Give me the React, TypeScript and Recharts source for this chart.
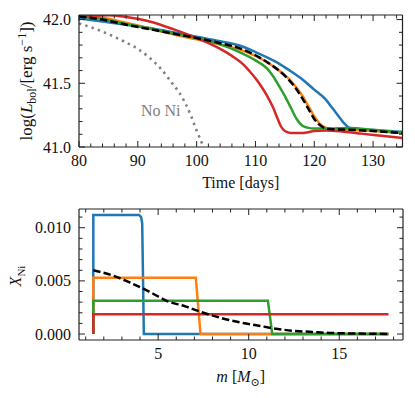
import React from 'react';
import { LineChart, Line, XAxis, YAxis, Label, ReferenceDot } from 'recharts';

// top panel: bolometric light curves, time [days] vs log L
const blueT = [80, 84, 88, 92, 96, 100, 104, 107, 110, 113, 114, 116, 118, 120, 122, 123, 124, 125, 125.8, 126.6, 128, 131, 135];
const blueL = [42.01, 41.985, 41.96, 41.935, 41.9, 41.865, 41.83, 41.8, 41.745, 41.68, 41.655, 41.595, 41.53, 41.45, 41.37, 41.31, 41.25, 41.19, 41.155, 41.145, 41.14, 41.13, 41.12];

const orangeT = [80, 84, 88, 92, 96, 100, 104, 107, 110, 112, 114, 116, 118, 119, 120, 121, 122, 123, 126, 130, 135];
const orangeL = [42.03, 42.015, 41.975, 41.93, 41.885, 41.845, 41.805, 41.77, 41.715, 41.665, 41.6, 41.52, 41.4, 41.32, 41.24, 41.18, 41.15, 41.14, 41.135, 41.125, 41.11];

const greenT = [80, 84, 88, 92, 96, 100, 104, 107, 110, 112, 113, 114, 115, 116, 117, 118, 119, 120, 122, 126, 130, 135];
const greenL = [42.025, 42.005, 41.965, 41.93, 41.89, 41.855, 41.805, 41.75, 41.68, 41.615, 41.555, 41.48, 41.4, 41.31, 41.22, 41.167, 41.15, 41.145, 41.145, 41.15, 41.135, 41.11];

const redT = [80, 82, 85, 88, 92, 96, 100, 104, 106, 108, 109, 110, 111, 112, 113, 113.7, 114.3, 115, 116, 118, 120, 122, 125, 128, 131, 135];
const redL = [42.02, 42.03, 42.035, 42.02, 41.985, 41.925, 41.855, 41.77, 41.715, 41.645, 41.595, 41.54, 41.475, 41.4, 41.31, 41.23, 41.165, 41.125, 41.11, 41.11, 41.125, 41.13, 41.12, 41.105, 41.09, 41.07];

const meanT = [80, 84, 88, 92, 96, 100, 104, 107, 110, 112, 114, 116, 118, 119, 120, 121, 122, 123, 126, 130, 135];
const meanL = [42.025, 42.0, 41.96, 41.925, 41.89, 41.855, 41.815, 41.78, 41.72, 41.665, 41.6, 41.51, 41.38, 41.3, 41.22, 41.17, 41.145, 41.14, 41.135, 41.125, 41.11];

const noNiT = [80, 82, 84, 86, 88, 90, 92, 94, 96, 97, 98, 99, 100, 101, 101.2];
const noNiL = [41.97, 41.94, 41.905, 41.865, 41.82, 41.77, 41.7, 41.61, 41.49, 41.43, 41.35, 41.25, 41.13, 41.02, 41.0];

// bottom panel: Ni mass fraction vs mass coordinate
const blueM = [1.42, 1.42, 3.95, 4.06, 4.12, 4.21, 17.72];
const blueX = [0, 0.0112, 0.0112, 0.011, 0.0104, 0, 0];
const orangeM = [1.42, 1.42, 7.08, 7.34, 17.72];
const orangeX = [0, 0.0053, 0.0053, 0, 0];
const greenM = [1.42, 1.42, 11.06, 11.3, 17.72];
const greenX = [0, 0.00314, 0.00314, 0, 0];
const redM = [1.42, 1.42, 17.72];
const redX = [0, 0.00186, 0.00186];
const meanM = [1.42, 2.5, 3.5, 4.5, 5.5, 6.5, 7.5, 8.5, 9.5, 10.5, 11.5, 12.5, 13.5, 14.5, 15.5, 16.5, 17.72];
const meanX = [0.006, 0.0055, 0.0048, 0.004, 0.0031, 0.0026, 0.002, 0.0015, 0.0011, 0.0008, 0.0005, 0.0003, 0.0002, 0.0001, 0.00006, 0.00003, 0.00001];

// ticks
const timeMajor = [80, 90, 100, 110, 120, 130];
const lumMajor = [41.0, 41.5, 42.0];
const massMajor = [5, 10, 15];
const niMajor = [0, 0.005, 0.01];

const steps = (a: number, b: number, s: number) => {
  const out: number[] = [];
  for (let i = 0; a + i * s <= b + 1e-9; i++) out.push(+(a + i * s).toFixed(6));
  return out;
};
const timeTicks = steps(80, 134, 2);
const lumTicks = steps(41.0, 42.0, 0.1);
const massTicks = steps(1, 18, 1);
const niTicks = steps(0, 0.011, 0.001);

const pts = (xs: number[], ys: number[]) => xs.map((x, i) => ({ x, y: ys[i] }));

const FONT = "'Liberation Serif', 'DejaVu Serif', serif";
const INK = '#222';
const axisStyle = { stroke: INK, strokeWidth: 1.2 };
const isMajor = (v: number, majors: number[]) => majors.some((m) => Math.abs(m - v) < 1e-9);

function tickFor(side: string, majors: number[], fmt?: (v: number) => string) {
  return (p: any) => {
    const { x, y, payload } = p;
    const v = payload.value;
    const major = isMajor(v, majors);
    const len = major ? 6 : 3.5;
    let line;
    let label = null;
    if (side === 'bottom') {
      line = <line x1={x} y1={y} x2={x} y2={y - len} stroke={INK} strokeWidth={1} />;
      if (major && fmt)
        label = <text x={x} y={y + 19} textAnchor="middle" fontSize={16} fontFamily={FONT} fill="#111">{fmt(v)}</text>;
    } else if (side === 'top') {
      line = <line x1={x} y1={y} x2={x} y2={y + len} stroke={INK} strokeWidth={1} />;
    } else if (side === 'left') {
      line = <line x1={x} y1={y} x2={x + len} y2={y} stroke={INK} strokeWidth={1} />;
      if (major && fmt)
        label = <text x={x - 8} y={y} dy="0.35em" textAnchor="end" fontSize={16} fontFamily={FONT} fill="#111">{fmt(v)}</text>;
    } else {
      line = <line x1={x} y1={y} x2={x - len} y2={y} stroke={INK} strokeWidth={1} />;
    }
    return (
      <g>
        {line}
        {label}
      </g>
    );
  };
}

const W = 415;
// margins leave 1px for each axis band (axes of size 0 are not drawn)
const topM = { top: 14, right: 11.5, bottom: 52, left: 78 };
const botM = { top: 8, right: 11, bottom: 57, left: 78 };
const cxPlot = 79 + (W - 79 - 12.5) / 2;

const lineProps = { dot: false, activeDot: false, isAnimationActive: false, strokeWidth: 2.5, dataKey: 'y' } as const;
const bandProps = { tickSize: 0, tickMargin: 0, tickLine: false, axisLine: axisStyle, interval: 0 as const, allowDataOverflow: true };

export default function App() {
  return (
    <div style={{ position: 'absolute', left: 0, top: 0, width: W, height: 398, background: '#fff' }}>
      <LineChart width={W} height={200} margin={topM}>
        <XAxis dataKey="x" type="number" domain={[80, 135]} ticks={timeTicks} height={1} {...bandProps}
          tick={tickFor('bottom', timeMajor, (v) => String(v))}>
          <Label content={() => (
            <text x={cxPlot} y={188} textAnchor="middle" fontSize={16} fontFamily={FONT} fill="#111">Time [days]</text>
          )} />
        </XAxis>
        <XAxis xAxisId="top" orientation="top" dataKey="x" type="number" domain={[80, 135]} ticks={timeTicks}
          height={1} {...bandProps} tick={tickFor('top', timeMajor)} />
        <YAxis type="number" domain={[41.0, 42.036]} ticks={lumTicks} width={1} {...bandProps}
          tick={tickFor('left', lumMajor, (v) => v.toFixed(1))}>
          <Label content={() => (
            <text transform={`rotate(-90 26 81)`} x={26} y={81} dy="0.35em" textAnchor="middle" fontSize={17} fontFamily={FONT} fill="#111">
              log(<tspan fontStyle="italic">L</tspan>
              <tspan fontSize={12} dy={4}>bol</tspan>
              <tspan dy={-4}>/[erg s</tspan>
              <tspan fontSize={12} dy={-6}>−1</tspan>
              <tspan dy={6}>])</tspan>
            </text>
          )} />
        </YAxis>
        <YAxis yAxisId="right" orientation="right" type="number" domain={[41.0, 42.036]} ticks={lumTicks}
          width={1} {...bandProps} tick={tickFor('right', lumMajor)} />
        <Line data={pts(noNiT, noNiL)} type="monotone" stroke="#808080" {...lineProps} strokeWidth={2.6} strokeDasharray="2.4 4.2" />
        <Line data={pts(blueT, blueL)} type="monotone" stroke="#1f77b4" {...lineProps} />
        <Line data={pts(orangeT, orangeL)} type="monotone" stroke="#ff7f0e" {...lineProps} />
        <Line data={pts(greenT, greenL)} type="monotone" stroke="#2ca02c" {...lineProps} />
        <Line data={pts(redT, redL)} type="monotone" stroke="#d62728" {...lineProps} />
        <Line data={pts(meanT, meanL)} type="monotone" stroke="#000" {...lineProps} strokeDasharray="7.4 3.2" />
        <ReferenceDot x={93.9} y={41.29} r={0} fill="none" stroke="none"
          label={{ value: 'No Ni', position: 'center', fill: '#808080', fontSize: 16, fontFamily: FONT }} />
      </LineChart>
      <LineChart width={W} height={198} margin={botM}>
        <XAxis dataKey="x" type="number" domain={[0.63, 18.52]} ticks={massTicks} height={1} {...bandProps}
          tick={tickFor('bottom', massMajor, (v) => String(v))}>
          <Label content={() => (
            <text x={cxPlot} y={182} textAnchor="middle" fontSize={16} fontFamily={FONT} fill="#111">
              <tspan fontStyle="italic">m</tspan> [<tspan fontStyle="italic">M</tspan>
              <tspan fontSize={11} dy={4}>⊙</tspan>
              <tspan dy={-4}>]</tspan>
            </text>
          )} />
        </XAxis>
        <XAxis xAxisId="top" orientation="top" dataKey="x" type="number" domain={[0.63, 18.52]} ticks={massTicks}
          height={1} {...bandProps} tick={tickFor('top', massMajor)} />
        <YAxis type="number" domain={[-0.00056, 0.01176]} ticks={niTicks} width={1} {...bandProps}
          tick={tickFor('left', niMajor, (v) => v.toFixed(3))}>
          <Label content={() => (
            <text transform={`rotate(-90 15 76)`} x={15} y={76} dy="0.35em" textAnchor="middle" fontSize={16} fontFamily={FONT} fill="#111">
              <tspan fontStyle="italic">X</tspan>
              <tspan fontSize={11} dy={4}>Ni</tspan>
            </text>
          )} />
        </YAxis>
        <YAxis yAxisId="right" orientation="right" type="number" domain={[-0.00056, 0.01176]} ticks={niTicks}
          width={1} {...bandProps} tick={tickFor('right', niMajor)} />
        <Line data={pts(blueM, blueX)} type="linear" stroke="#1f77b4" {...lineProps} />
        <Line data={pts(orangeM, orangeX)} type="linear" stroke="#ff7f0e" {...lineProps} />
        <Line data={pts(greenM, greenX)} type="linear" stroke="#2ca02c" {...lineProps} />
        <Line data={pts(redM, redX)} type="linear" stroke="#d62728" {...lineProps} />
        <Line data={pts(meanM, meanX)} type="monotone" stroke="#000" {...lineProps} strokeDasharray="7.4 3.2" />
      </LineChart>
    </div>
  );
}
